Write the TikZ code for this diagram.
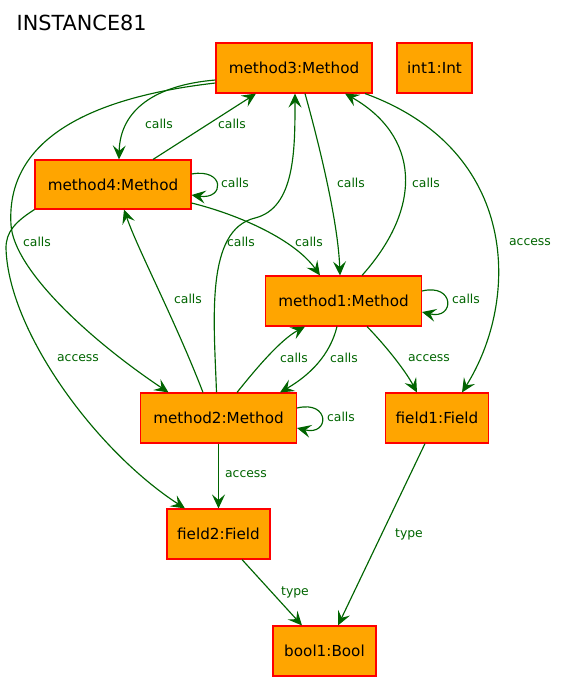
\documentclass[tikz,border=0pt]{standalone}
\usepackage{fontspec}
\usetikzlibrary{arrows.meta}
\newfontfamily\dvfont{DejaVu Sans}
\definecolor{edgegreen}{HTML}{006400}
\definecolor{boxfill}{HTML}{FFA500}
\definecolor{boxline}{HTML}{FF0000}
\tikzset{
  obj/.style={draw=boxline, fill=boxfill, line width=1.1pt, minimum height=50pt, inner sep=0pt,
    font=\dvfont\fontsize{15.2}{18}\selectfont},
  rel/.style={draw=edgegreen, line width=1.15pt, -{Stealth[length=14pt,width=13pt,inset=5.5pt]}},
  lab/.style={text=edgegreen, font=\dvfont\fontsize{12.4}{14}\selectfont, inner sep=0pt}
}
\begin{document}
\begin{tikzpicture}[x=1pt,y=-1pt]
\useasboundingbox (0,0) rectangle (563,682);
\node[font=\dvfont\fontsize{20.8}{24}\selectfont, anchor=west, inner sep=0pt] (title) at (16.5,23) {INSTANCE81};
\node[obj, minimum width=156pt] (m3) at (294,68) {method3:Method};
\node[obj, minimum width=75pt] (i1) at (434.5,68) {int1:Int};
\node[obj, minimum width=156pt, minimum height=49pt] (m4) at (113,184.5) {method4:Method};
\node[obj, minimum width=156pt] (m1) at (343.5,301) {method1:Method};
\node[obj, minimum width=156pt] (m2) at (218.5,418) {method2:Method};
\node[obj, minimum width=103pt] (f1) at (437,418) {field1:Field};
\node[obj, minimum width=103pt] (f2) at (218.5,534) {field2:Field};
\node[obj, minimum width=103pt] (b1) at (324.5,651) {bool1:Bool};

% method3 -> method4
\draw[rel] ([yshift=-12pt]m3.west) .. controls (155,85) and (120,110) .. ([xshift=6pt]m4.north);
\node[lab] (l1) at (159,124) {calls};
% method4 -> method3
\draw[rel] ([xshift=40pt]m4.north) -- ([xshift=-38pt]m3.south);
\node[lab] (l2) at (232,124) {calls};
% method4 self
\draw[rel] ([yshift=10.5pt]m4.east) .. controls (225,168) and (225,200) .. ([yshift=-10.5pt]m4.east);
\node[lab] (l3) at (235,183) {calls};
% method3 -> method2
\coordinate (c1) at (11,225);
\draw[rel] ([yshift=-15pt]m3.west) .. controls (110,95) and (5,130) .. (c1)
  .. controls (14,270) and (90,340) .. ([xshift=-50pt]m2.north);
\node[lab] (l4) at (37,242) {calls};
% method4 -> field2
\coordinate (c2) at (6,248);
\draw[rel] (m4.south west) .. controls (15,222) and (6,232) .. (c2)
  .. controls (8,330) and (95,450) .. ([xshift=-33.5pt]f2.north);
\node[lab] (l5) at (78,358) {access};
% method2 -> method4
\draw[rel] ([xshift=-15.5pt]m2.north) .. controls (175,320) and (138,250) .. ([xshift=11pt]m4.south);
\node[lab] (l6) at (188,299) {calls};
% method2 -> method3
\coordinate (c3) at (255,218);
\draw[rel] ([xshift=-2pt]m2.north) .. controls (214,320) and (205,230) .. (c3)
  .. controls (295,208) and (295,150) .. ([xshift=1pt]m3.south);
\node[lab] (l7) at (241,242) {calls};
% method4 -> method1
\draw[rel] ([yshift=-18.5pt]m4.east) .. controls (240,215) and (295,240) .. ([xshift=-23.5pt]m1.north);
\node[lab] (l8) at (309,242) {calls};
% method3 -> method1
\draw[rel] ([xshift=11pt]m3.south) .. controls (318,140) and (338,220) .. ([xshift=-3.5pt]m1.north);
\node[lab] (l9) at (351,183) {calls};
% method1 -> method3
\draw[rel] ([xshift=18.5pt]m1.north) .. controls (425,205) and (418,135) .. ([xshift=51pt]m3.south);
\node[lab] (l10) at (426,183) {calls};
% method3 -> field1
\draw[rel] ([xshift=71pt]m3.south) .. controls (520,150) and (520,300) .. ([xshift=25pt]f1.north);
\node[lab] (l11) at (530,242) {access};
% method1 self
\draw[rel] ([yshift=10pt]m1.east) .. controls (455,283) and (455,320) .. ([yshift=-11pt]m1.east);
\node[lab] (l12) at (466,299) {calls};
% method2 -> method1
\draw[rel] ([xshift=18.5pt]m2.north) .. controls (255,370) and (280,340) .. ([xshift=-38.5pt]m1.south);
\node[lab] (l13) at (294,358) {calls};
% method1 -> method2
\draw[rel] ([xshift=-6.5pt]m1.south) .. controls (330,355) and (310,375) .. ([xshift=61.5pt]m2.north);
\node[lab] (l14) at (344,358) {calls};
% method1 -> field1
\draw[rel] ([xshift=23.5pt]m1.south) .. controls (385,345) and (405,370) .. ([xshift=-20pt]f1.north);
\node[lab] (l15) at (429,358) {access};
% method2 self
\draw[rel] ([yshift=10pt]m2.east) .. controls (330,400) and (330,436) .. ([yshift=-10pt]m2.east);
\node[lab] (l16) at (341,417) {calls};
% method2 -> field2
\draw[rel] (m2.south) -- (f2.north);
\node[lab] (l17) at (246,474) {access};
% field2 -> bool1
\draw[rel] ([xshift=23.5pt]f2.south) -- ([xshift=-22.5pt]b1.north);
\node[lab] (l18) at (295,592) {type};
% field1 -> bool1
\draw[rel] ([xshift=-12pt]f1.south) -- ([xshift=13.5pt]b1.north);
\node[lab] (l19) at (409,534) {type};
\end{tikzpicture}
\end{document}
